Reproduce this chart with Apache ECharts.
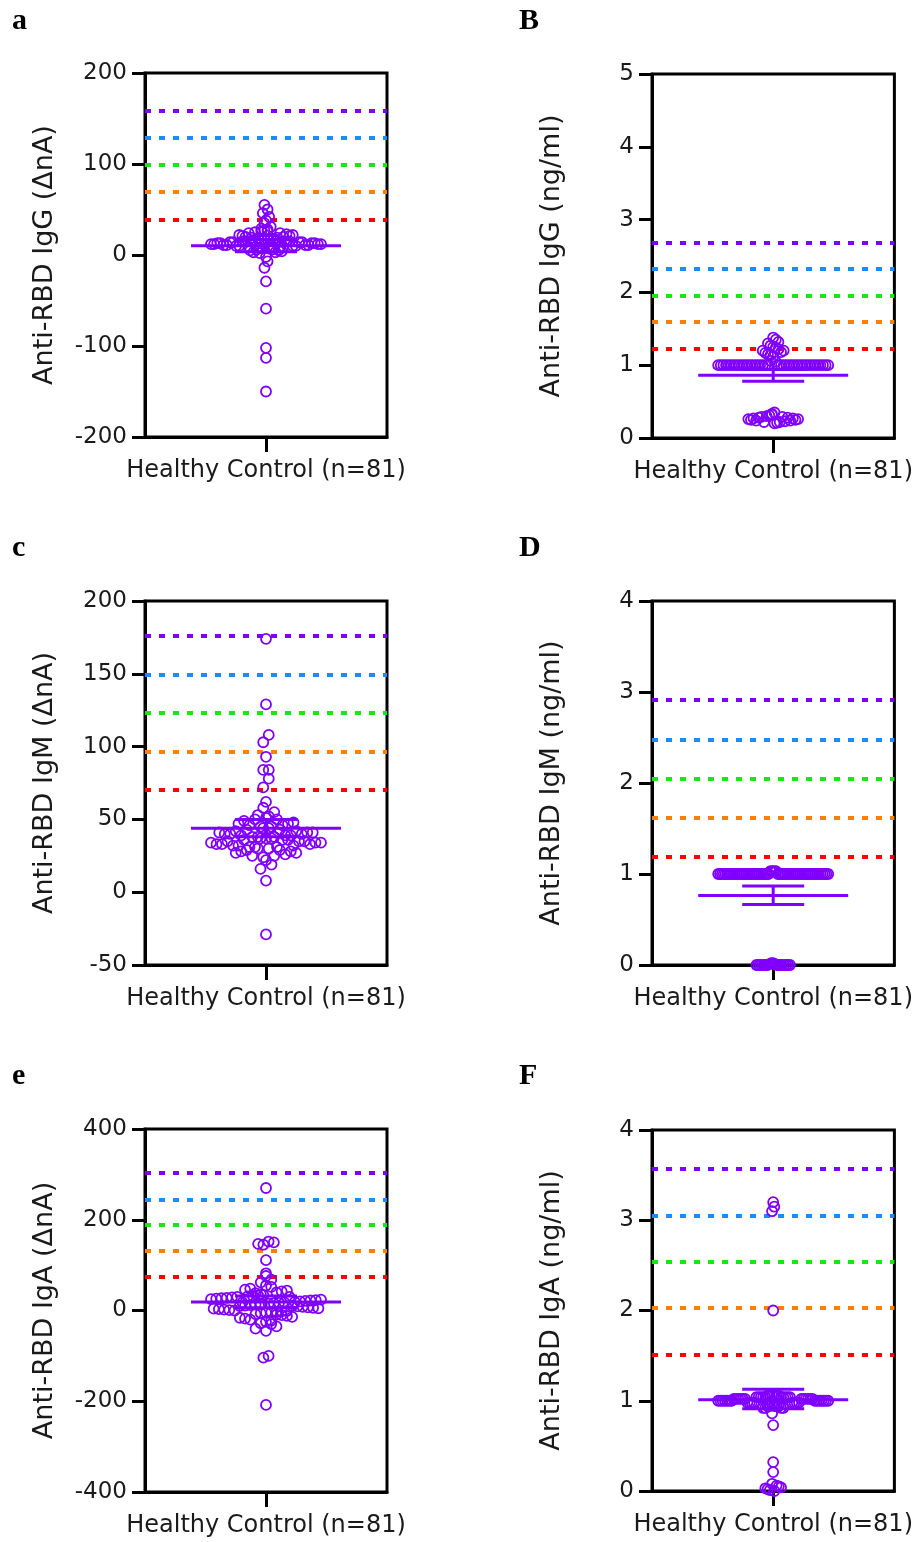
<!DOCTYPE html>
<html>
<head>
<meta charset="utf-8">
<script src="https://cdn.jsdelivr.net/npm/echarts@6/dist/echarts.min.js"></script>
<style>
html, body { margin: 0; padding: 0; background: #fff; }
#chart { width: 916px; height: 1542px; }
</style>
</head>
<body>
<div id="chart"></div>
<script>
// ---- data ----
var panelLetters = ['a', 'B', 'c', 'D', 'e', 'F'];
var yNames = ['Anti-RBD IgG (ΔnA)', 'Anti-RBD IgG (ng/ml)', 'Anti-RBD IgM (ΔnA)',
              'Anti-RBD IgM (ng/ml)', 'Anti-RBD IgA (ΔnA)', 'Anti-RBD IgA (ng/ml)'];
var xLabel = 'Healthy Control (n=81)';
var yMin  = [-200, 0, -50, 0, -400, 0];
var yMax  = [200, 5, 200, 4, 400, 4];
var yStep = [100, 1, 50, 1, 200, 1];

// cut-off lines: red, orange, green, blue, purple
var cutColors = ['#ff0000', '#ff8000', '#17e617', '#1a8cff', '#8000ff'];
var cutIgGnA  = [39, 69, 99, 129, 159];
var cutIgGng  = [1.22, 1.59, 1.95, 2.32, 2.68];
var cutIgMnA  = [70.3, 96.7, 123, 149.5, 176];
var cutIgMng  = [1.19, 1.62, 2.05, 2.47, 2.91];
var cutIgAnA  = [74, 131, 188, 245, 303];
var cutIgAng  = [1.51, 2.03, 2.54, 3.05, 3.57];

// mean, lower, upper
var barIgGnA = [10.3, 3.7, 16.9];
var barIgGng = [0.862, 0.78, 0.94];
var barIgMnA = [44, 38, 50];
var barIgMng = [0.765, 0.666, 0.867];
var barIgAnA = [19, 6, 32];
var barIgAng = [1.01, 0.91, 1.127];

var igGnA = [-150, -113, -102, -59, -29, -14, -7, -2,
  2, 3, 3, 4, 5, 5, 6, 6, 7, 7, 8, 8, 8, 9, 9, 9, 10, 10, 10, 10,
  11, 11, 11, 11, 12, 12, 12, 12, 13, 13, 13, 13, 14, 14, 14, 14, 15, 15, 15, 15,
  16, 16, 16, 17, 17, 17, 18, 18, 18, 19, 19, 20, 20, 21, 21, 22, 23, 24, 25, 26, 27, 29,
  55, 50, 46, 42, 38, 35, 31, 28, 26, 24, 22];
var igGng = [0.20, 0.21, 0.22, 0.22, 0.23, 0.24, 0.24, 0.25, 0.25, 0.26, 0.26,
  0.27, 0.27, 0.28, 0.28, 0.29, 0.29, 0.30, 0.31, 0.32, 0.33, 0.35,
  1, 1, 1, 1, 1, 1, 1, 1, 1, 1, 1, 1, 1, 1, 1, 1, 1, 1, 1, 1, 1,
  1, 1, 1, 1, 1, 1, 1, 1, 1, 1, 1, 1, 1, 1, 1, 1, 1, 1, 1, 1.05, 1.06,
  1.12, 1.14, 1.15, 1.17, 1.18, 1.2, 1.2, 1.22, 1.24, 1.25, 1.27, 1.3, 1.32, 1.35, 1.38];
var igMnA = [-29, 8, 16, 19, 22,
  24, 25, 25, 26, 27, 27, 28, 28, 29, 29, 30, 30, 31, 31, 31, 32, 32, 32, 33, 33,
  33, 34, 34, 34, 35, 35, 35, 36, 36, 36, 37, 37, 37, 38, 38, 38, 39, 39, 39, 40,
  40, 40, 41, 41, 41, 42, 42, 43, 43, 44, 44, 45, 45, 46, 46, 47, 47, 48, 49, 50,
  50, 51, 52,
  53, 55, 58, 62, 72, 78, 84, 84, 93, 103, 108, 129, 174];
var igMng = [0, 0, 0, 0, 0, 0, 0, 0, 0, 0, 0, 0, 0, 0, 0, 0.01, 0.01, 0.02, 0.02,
  1, 1, 1, 1, 1, 1, 1, 1, 1, 1, 1, 1, 1, 1, 1, 1, 1, 1, 1, 1, 1, 1, 1, 1, 1, 1, 1, 1, 1,
  1, 1, 1, 1, 1, 1, 1, 1, 1, 1, 1, 1, 1, 1, 1, 1, 1, 1, 1, 1, 1, 1, 1, 1, 1, 1, 1,
  1.03, 1.03, 1.03, 1.03];
var igAnA = [-208, -104, -100, -45, -40, -35,
  -30, -28, -25, -22, -20, -18, -16, -14, -12, -10, -9, -8, -6, -5, -4, -3, -2, -1, 0, 1,
  2, 3, 4, 5, 6, 7, 8, 9, 10, 10, 11, 12, 13, 14, 15, 16, 17, 18, 18, 19,
  20, 21, 22, 23, 24, 25, 26, 27, 28, 29, 30, 30, 31, 32, 33, 34, 36, 38, 40, 42,
  44, 46, 48, 52, 55,
  62, 68, 76, 82, 111, 145, 147, 150, 152, 270];
var igAng = [0, 0.01, 0.02, 0.03, 0.04, 0.05, 0.06, 0.08, 0.21, 0.32, 0.73, 0.86,
  0.92, 0.92, 0.92, 0.92, 0.94, 0.94, 0.94, 0.94, 0.94,
  0.96, 0.96, 0.96, 0.96, 0.96, 0.96, 0.98, 0.98, 0.98, 0.98, 0.98, 0.98, 0.98, 0.98,
  1, 1, 1, 1, 1, 1, 1, 1, 1, 1, 1, 1, 1, 1,
  1.02, 1.02, 1.02, 1.02, 1.02, 1.02, 1.02, 1.02, 1.02, 1.02, 1.02, 1.02,
  1.04, 1.04, 1.04, 1.04, 1.04, 1.04, 1.04, 1.04, 1.04, 1.04,
  1.06, 1.06, 1.06, 1.06, 1.06, 1.06,
  2.0, 3.1, 3.15, 3.2];

var values = [igGnA, igGng, igMnA, igMng, igAnA, igAng];
var cuts = [cutIgGnA, cutIgGng, cutIgMnA, cutIgMng, cutIgAnA, cutIgAng];
var bars = [barIgGnA, barIgGng, barIgMnA, barIgMng, barIgAnA, barIgAng];

// ---- layout ----
var purple = '#8000ff';
var font = 'DejaVu Sans';
var grids = [
  {left: 145, top: 73, width: 242, height: 364},
  {left: 652, top: 74, width: 244, height: 364},
  {left: 145, top: 601, width: 242, height: 364},
  {left: 652, top: 601, width: 244, height: 364},
  {left: 145, top: 1129, width: 242, height: 363},
  {left: 652, top: 1130, width: 244, height: 361}
];
var letterPos = [[12, 6], [519, 6], [12, 533], [519, 533], [12, 1061], [519, 1061]];

var chart = echarts.init(document.getElementById('chart'));

var option = {
  animation: false,
  backgroundColor: '#fff',
  title: panelLetters.map(function (t, i) {
    return {
      text: t, left: letterPos[i][0], top: letterPos[i][1], padding: 0,
      textStyle: {fontFamily: 'Liberation Serif', fontWeight: 'bold', fontSize: 30, color: '#000'}
    };
  }),
  grid: grids.map(function (g) {
    return Object.assign({show: true, borderColor: '#000', borderWidth: 3,
      backgroundColor: 'transparent'}, g);
  }),
  xAxis: grids.map(function (g, i) {
    return {
      gridIndex: i, type: 'value', min: -1, max: 1,
      axisLine: {show: true, onZero: false, lineStyle: {color: '#000', width: 3}},
      axisTick: {show: true, customValues: [0], length: 15, lineStyle: {color: '#000', width: 3}},
      axisLabel: {customValues: [0], formatter: function () { return xLabel; },
        margin: 22, fontSize: 24, color: '#1a1a1a', fontFamily: font},
      splitLine: {show: false}
    };
  }),
  yAxis: grids.map(function (g, i) {
    return {
      gridIndex: i, type: 'value', min: yMin[i], max: yMax[i], interval: yStep[i],
      name: yNames[i], nameLocation: 'middle', nameRotate: 90, nameGap: 87,
      nameTextStyle: {fontSize: 27, color: '#1a1a1a', fontFamily: font},
      axisLine: {show: true, onZero: false, lineStyle: {color: '#000', width: 3}},
      axisTick: {show: true, length: 13, lineStyle: {color: '#000', width: 3}},
      axisLabel: {margin: 18, fontSize: 23, color: '#1a1a1a', fontFamily: font},
      splitLine: {show: false}
    };
  }),
  series: bars.map(function (b, i) {
    return {
      type: 'custom', xAxisIndex: i, yAxisIndex: i, z: 3,
      data: [[0, b[0], b[1], b[2]]],
      renderItem: function (params, api) {
        var c = api.coord([0, api.value(1)]);
        var lo = api.coord([0, api.value(2)]);
        var hi = api.coord([0, api.value(3)]);
        var st = {stroke: purple, lineWidth: 3};
        return {type: 'group', children: [
          {type: 'line', shape: {x1: c[0] - 75, y1: c[1], x2: c[0] + 75, y2: c[1]}, style: st},
          {type: 'line', shape: {x1: c[0], y1: lo[1], x2: c[0], y2: hi[1]}, style: st},
          {type: 'line', shape: {x1: c[0] - 31, y1: lo[1], x2: c[0] + 31, y2: lo[1]}, style: st},
          {type: 'line', shape: {x1: c[0] - 31, y1: hi[1], x2: c[0] + 31, y2: hi[1]}, style: st}
        ]};
      }
    };
  })
};
chart.setOption(option);

// scatter dot plot: rows of nearby values spread sideways with one step per panel
function swarm(vals, i) {
  var rowH = 9, span = 110, maxStep = 10;
  var pts = vals.map(function (v) {
    return {v: v, py: chart.convertToPixel({yAxisIndex: i}, v)};
  });
  pts.sort(function (a, b) { return b.py - a.py; });
  var rows = [], cur = null;
  pts.forEach(function (p) {
    if (!cur || cur.start - p.py > rowH) { cur = {start: p.py, items: []}; rows.push(cur); }
    cur.items.push(p);
  });
  var maxN = 1;
  rows.forEach(function (r) { maxN = Math.max(maxN, r.items.length); });
  var step = maxN > 1 ? Math.min(maxStep, span / (maxN - 1)) : 0;
  var cx = chart.convertToPixel({xAxisIndex: i}, 0);
  var out = [];
  rows.forEach(function (r) {
    var n = r.items.length, slots = [];
    for (var k = 0; k < n; k++) slots.push((k - (n - 1) / 2) * step);
    slots.sort(function (a, b) { return Math.abs(a) - Math.abs(b) || a - b; });
    // extreme values of a row sit in the middle, so each row bulges like a diamond
    var mid = 0;
    r.items.forEach(function (p) { mid += p.py; });
    mid /= n;
    var items = r.items.slice().sort(function (a, b) {
      return Math.abs(b.py - mid) - Math.abs(a.py - mid);
    });
    items.forEach(function (p, k) {
      out.push([chart.convertFromPixel({xAxisIndex: i}, cx + slots[k]), p.v]);
    });
  });
  return out;
}

var scatterSeries = values.map(function (vals, i) {
  return {
    type: 'scatter', xAxisIndex: i, yAxisIndex: i, z: 4, clip: false,
    symbol: 'circle', symbolSize: 10,
    itemStyle: {color: 'rgba(255,255,255,0)', borderColor: purple, borderWidth: 1.8, opacity: 1},
    data: swarm(vals, i),
    markLine: {
      silent: true, symbol: 'none', z: 1, animation: false,
      label: {show: false},
      data: cuts[i].map(function (v, k) {
        return {yAxis: v, lineStyle: {color: cutColors[k], type: [6, 8], width: 4, opacity: 1}};
      })
    }
  };
});
chart.setOption({series: option.series.concat(scatterSeries)});
</script>
</body>
</html>
